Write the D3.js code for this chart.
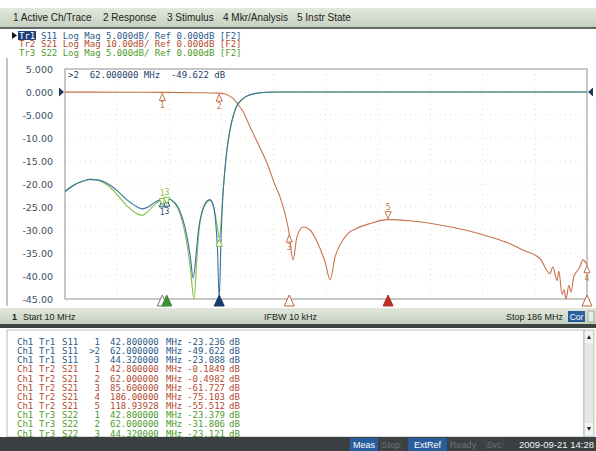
<!DOCTYPE html>
<html>
<head>
<meta charset="utf-8">
<script src="https://cdn.jsdelivr.net/npm/d3@7"></script>
<style>
  body { margin: 0; background: #fff; }
  svg { display: block; }
</style>
</head>
<body>
<svg id="vna" width="596" height="451"></svg>
<script>
// ---- data ----
const menuItems = ["1 Active Ch/Trace", "2 Response", "3 Stimulus", "4 Mkr/Analysis", "5 Instr State"]
const menuX = [13, 103, 167, 223, 297]

const traceNames = ["Tr1", "Tr2", "Tr3"]
const traceParams = ["S11 Log Mag 5.000dB/ Ref 0.000dB [F2]",
                     "S21 Log Mag 10.00dB/ Ref 0.000dB [F2]",
                     "S22 Log Mag 5.000dB/ Ref 0.000dB [F2]"]

const yTicks = [5, 0, -5, -10, -15, -20, -25, -30, -35, -40, -45]
const yTickLabels = ["5.000", "0.000", "-5.000", "-10.00", "-15.00", "-20.00",
                     "-25.00", "-30.00", "-35.00", "-40.00", "-45.00"]
const xGrid = [10, 27.6, 45.2, 62.8, 80.4, 98, 115.6, 133.2, 150.8, 168.4, 186]

// S11 (Tr1, 5 dB/div)
const freqS11 = [10, 12, 14, 16.5, 18.4, 21, 23.5, 26, 28.5, 31, 33.6, 36, 38, 40, 42.8, 44.3,
  46, 48, 49.5, 51, 52.3, 53.2, 54.1, 55, 56.2, 57.5, 58.8, 59.8, 60.7, 61.4, 62, 62.6, 63.2,
  63.9, 64.6, 65.6, 66.8, 68, 69.5, 71, 73, 75.5, 78, 82, 120, 150, 186]
const dbS11 = [-21.7, -20.7, -19.9, -19.3, -19.0, -19.1, -19.6, -20.6, -22.0, -23.5, -24.7, -25.4,
  -25.0, -24.1, -23.24, -23.09, -23.5, -24.9, -27.2, -31, -36, -40.5, -36, -30, -26, -24, -23.4,
  -24.2, -27.5, -34, -49.6, -32, -23, -17, -12.5, -8.3, -5.0, -2.9, -1.7, -1.0, -0.5, -0.2,
  -0.05, 0, 0, 0, 0]

// S22 (Tr3, 5 dB/div)
const freqS22 = [10, 12, 14, 16.5, 18.4, 21, 23.5, 26, 28.5, 31, 33.6, 36, 38, 40, 42.8, 44.3,
  46, 48, 49.5, 51, 52.3, 53.5, 54.4, 55.2, 56.3, 57.5, 58.8, 59.8, 60.7, 61.4, 62, 62.6, 63.2,
  63.9, 64.6, 65.6, 66.8, 68, 69.5, 71, 73, 75.5, 78, 82, 120, 150, 186]
const dbS22 = [-21.5, -20.6, -19.9, -19.3, -19.0, -19.2, -19.9, -21.2, -23.0, -24.8, -26.2, -26.8,
  -26.0, -24.6, -23.38, -23.12, -23.6, -25.2, -28, -32.5, -38.5, -46, -37, -30, -26, -24.2, -23.6,
  -24.4, -26.8, -29.5, -31.8, -28.5, -22.5, -17, -12.7, -8.5, -5.1, -3.0, -1.8, -1.0, -0.5, -0.2,
  -0.05, 0, 0, 0, 0]

// S21 (Tr2, 10 dB/div)
const freqS21 = [10, 30, 42.8, 55, 62, 64, 65.5, 67, 68, 70, 72.4, 75.1, 78.1, 80.8, 82.5, 85.2,
  85.6, 86.9, 88.2, 90.3, 92.6, 95.3, 97.7, 99.4, 101, 103.4, 105.5, 108.5, 112.8, 118.9, 126.3,
  136.4, 144.9, 153.3, 160, 164.4, 170.2, 173.5, 174.5, 175.9, 176.5, 177.6, 178.3, 178.9, 179.9,
  180.6, 181.6, 182.6, 183.6, 184.6, 186]
const dbS21 = [-0.05, -0.1, -0.18, -0.3, -0.5, -0.9, -1.8, -3.2, -4.8, -8.5, -15.2, -22.5, -30.9,
  -40.4, -45.6, -58.7, -61.7, -73, -63, -58.7, -60, -66, -74, -81.7, -72, -65, -61.5, -59.2, -57.2,
  -55.5, -56, -57.8, -60, -63, -66, -68.7, -72.5, -79, -76, -82, -78, -88, -86, -90, -84, -87, -80,
  -78, -76, -73, -75.1]

// marker table (as listed on screen)
const mkTrace = ["Tr1", "Tr1", "Tr1", "Tr2", "Tr2", "Tr2", "Tr2", "Tr2", "Tr3", "Tr3", "Tr3"]
const mkParam = ["S11", "S11", "S11", "S21", "S21", "S21", "S21", "S21", "S22", "S22", "S22"]
const mkNum = ["1", ">2", "3", "1", "2", "3", "4", "5", "1", "2", "3"]
const mkFreq = ["42.800000", "62.000000", "44.320000", "42.800000", "62.000000", "85.600000",
                "186.00000", "118.93928", "42.800000", "62.000000", "44.320000"]
const mkVal = ["-23.236", "-49.622", "-23.088", "-0.1849", "-0.4982", "-61.727", "-75.103",
               "-55.512", "-23.379", "-31.806", "-23.121"]

const colors = { Tr1: "#3674a2", Tr2: "#c8714c", Tr3: "#88bd45" }
const textColors = { Tr1: "#2c5a8a", Tr2: "#b24c32", Tr3: "#4f9a2a" }

const mono = "'DejaVu Sans Mono', 'Liberation Mono', monospace"

const svg = d3.select("#vna")
const plot = { left: 65, right: 587, top: 69, bottom: 299 }

const x = d3.scaleLinear().domain([10, 186]).range([plot.left, plot.right])
const y5 = d3.scaleLinear().domain([-45, 5]).range([plot.bottom, plot.top]).clamp(true)
const y10 = d3.scaleLinear().domain([-90, 10]).range([plot.bottom, plot.top]).clamp(true)

// ---- menu bar ----
const grad = svg.append("defs").append("linearGradient")
  .attr("id", "menuGrad").attr("x1", 0).attr("x2", 0).attr("y1", 0).attr("y2", 1)
grad.append("stop").attr("offset", "0%").attr("stop-color", "#e2e8dc")
grad.append("stop").attr("offset", "100%").attr("stop-color", "#c6d0c0")

svg.append("rect").attr("x", 0).attr("y", 8).attr("width", 596).attr("height", 19)
  .attr("fill", "url(#menuGrad)")
svg.append("rect").attr("x", 0).attr("y", 27).attr("width", 596).attr("height", 2)
  .attr("fill", "#5f6a66")
svg.selectAll("text.menu").data(menuItems).enter().append("text")
  .attr("class", "menu")
  .attr("x", (d, i) => menuX[i]).attr("y", 21)
  .attr("font-family", "'Liberation Sans', Arial, sans-serif").attr("font-size", 10)
  .attr("fill", "#222").text(d => d)

// ---- trace header ----
svg.append("path").attr("d", "M12,32 L17,35.5 L12,39 Z").attr("fill", "#111")
svg.append("rect").attr("x", 18).attr("y", 31).attr("width", 18).attr("height", 9)
  .attr("fill", "#1f3f7a")
traceNames.forEach((t, i) => {
  const ty = 38.5 + i * 8.5
  svg.append("text").attr("x", 19).attr("y", ty)
    .attr("font-family", mono).attr("font-size", 9)
    .attr("fill", i === 0 ? "#fff" : textColors[t]).text(t)
  svg.append("text").attr("x", 41).attr("y", ty)
    .attr("font-family", mono).attr("font-size", 9)
    .attr("fill", textColors[t]).text(traceParams[i])
})

// ---- window frame ----
svg.append("line").attr("x1", 7).attr("x2", 7).attr("y1", 58).attr("y2", 306)
  .attr("stroke", "#9aa09a").attr("stroke-width", 1.2)

// ---- grid ----
const grid = svg.append("g")
grid.selectAll("line.h").data(yTicks.slice(1, -1)).enter().append("line")
  .attr("x1", plot.left).attr("x2", plot.right)
  .attr("y1", d => y5(d)).attr("y2", d => y5(d))
  .attr("stroke", "#e3e0c4").attr("stroke-dasharray", "1,4")
grid.selectAll("line.v").data(xGrid.slice(1, -1)).enter().append("line")
  .attr("y1", plot.top).attr("y2", plot.bottom)
  .attr("x1", d => x(d)).attr("x2", d => x(d))
  .attr("stroke", "#e3e0c4").attr("stroke-dasharray", "1,4")

svg.append("rect").attr("x", plot.left).attr("y", plot.top)
  .attr("width", plot.right - plot.left).attr("height", plot.bottom - plot.top)
  .attr("fill", "none").attr("stroke", "#8d9290").attr("stroke-width", 1)

// ---- y axis labels ----
const yAxis = d3.axisLeft(y5).tickValues(yTicks)
  .tickFormat((d, i) => yTickLabels[i]).tickSize(0).tickPadding(12)
const ya = svg.append("g").attr("transform", `translate(${plot.left},0)`).call(yAxis)
ya.select(".domain").remove()
ya.selectAll("text").attr("font-family", "'DejaVu Sans', sans-serif").attr("font-size", 9.5)
  .attr("fill", "#3b4f63")

// reference position arrows
svg.append("path").attr("d", `M59,${y5(0) - 4.5} L64,${y5(0)} L59,${y5(0) + 4.5} Z`).attr("fill", "#1d3a5e")
svg.append("path").attr("d", `M593,${y5(0) - 4.5} L588,${y5(0)} L593,${y5(0) + 4.5} Z`).attr("fill", "#1d3a5e")

// ---- traces ----
svg.append("clipPath").attr("id", "plotClip").append("rect")
  .attr("x", plot.left).attr("y", plot.top - 1)
  .attr("width", plot.right - plot.left + 1).attr("height", plot.bottom - plot.top + 2)
const traces = svg.append("g").attr("clip-path", "url(#plotClip)")

function drawTrace(freqs, vals, yScale, color) {
  const line = d3.line()
    .x((d, i) => x(freqs[i]))
    .y(d => yScale(d))
    .curve(d3.curveMonotoneX)
  traces.append("path").datum(vals).attr("d", line)
    .attr("fill", "none").attr("stroke", color).attr("stroke-width", 1.1)
}
drawTrace(freqS22, dbS22, y5, colors.Tr3)
drawTrace(freqS21, dbS21, y10, colors.Tr2)
drawTrace(freqS11, dbS11, y5, colors.Tr1)

// ---- markers on traces ----
const mk = svg.append("g")
function markerBelow(f, v, yScale, color, label) {
  const px = x(+f), py = yScale(v)
  mk.append("path").attr("d", `M${px},${py + 1} L${px - 3},${py + 8} L${px + 3},${py + 8} Z`)
    .attr("fill", "#fff").attr("stroke", color).attr("stroke-width", 1)
  mk.append("text").attr("x", px).attr("y", py + 16).attr("text-anchor", "middle")
    .attr("font-family", mono).attr("font-size", 8).attr("fill", color).text(label)
}
function markerAbove(f, v, yScale, color, label) {
  const px = x(+f), py = yScale(v)
  mk.append("path").attr("d", `M${px},${py - 1} L${px - 3},${py - 8} L${px + 3},${py - 8} Z`)
    .attr("fill", "#fff").attr("stroke", color).attr("stroke-width", 1)
  mk.append("text").attr("x", px).attr("y", py - 10).attr("text-anchor", "middle")
    .attr("font-family", mono).attr("font-size", 8).attr("fill", color).text(label)
}
mkParam.forEach((p, i) => {
  const v = +mkVal[i], f = +mkFreq[i], n = mkNum[i].replace(">", "")
  if (p === "S21") {
    if (n === "5") markerAbove(f, v, y10, colors.Tr2, n)
    else markerBelow(f, v, y10, colors.Tr2, n)
  } else if (p === "S11") {
    if (v > -45) markerBelow(f, v, y5, "#1f4f7a", n)
  } else {
    if (n === "2") markerBelow(f, v, y5, colors.Tr3, "")
    else markerAbove(f, v - 1.5, y5, colors.Tr3, n)
  }
})

// stimulus markers along the bottom edge
const stimF = [42.8, 44.32, 62, 85.6, 118.93928, 186]
const stimFill = ["#fff", "#3f8f3a", "#1d3a6e", "#fff", "#b8322a", "#fff"]
const stimStroke = ["#777", "#3f8f3a", "#1d3a6e", "#c0603c", "#b8322a", "#c0603c"]
svg.selectAll("path.stim").data(stimF).enter().append("path")
  .attr("class", "stim")
  .attr("d", d => `M${x(d)},${plot.bottom - 4} L${x(d) - 5},${plot.bottom + 7} L${x(d) + 5},${plot.bottom + 7} Z`)
  .attr("fill", (d, i) => stimFill[i]).attr("stroke", (d, i) => stimStroke[i]).attr("stroke-width", 1)

// active marker readout
svg.append("text").attr("x", 68).attr("y", 78)
  .attr("font-family", mono).attr("font-size", 9).attr("fill", "#1f3f6a")
  .attr("xml:space", "preserve")
  .text(`>2  ${mkFreq[1]} MHz  ${mkVal[1]} dB`)

// ---- channel status bar ----
svg.append("rect").attr("x", 0).attr("y", 308).attr("width", 596).attr("height", 16)
  .attr("fill", "url(#menuGrad)")
svg.append("rect").attr("x", 0).attr("y", 324).attr("width", 596).attr("height", 4)
  .attr("fill", "#3d4442")
const statusFont = "'Liberation Sans', Arial, sans-serif"
svg.append("text").attr("x", 12).attr("y", 320).attr("font-family", statusFont)
  .attr("font-size", 9).attr("font-weight", "bold").attr("fill", "#222").text("1")
svg.append("text").attr("x", 23).attr("y", 320).attr("font-family", statusFont)
  .attr("font-size", 9).attr("fill", "#222").text("Start 10 MHz")
svg.append("text").attr("x", 264).attr("y", 320).attr("font-family", statusFont)
  .attr("font-size", 9).attr("fill", "#222").text("IFBW 10 kHz")
svg.append("text").attr("x", 563).attr("y", 320).attr("text-anchor", "end").attr("font-family", statusFont)
  .attr("font-size", 9).attr("fill", "#222").text("Stop 186 MHz")
svg.append("rect").attr("x", 568).attr("y", 311).attr("width", 17).attr("height", 11).attr("fill", "#2a5d9c")
svg.append("text").attr("x", 576.5).attr("y", 320).attr("text-anchor", "middle").attr("font-family", statusFont)
  .attr("font-size", 8.5).attr("fill", "#fff").text("Cor")
svg.append("rect").attr("x", 588).attr("y", 311).attr("width", 6).attr("height", 11)
  .attr("fill", "#e8ece6").attr("stroke", "#888").attr("stroke-width", 0.6)

// ---- marker table ----
svg.append("rect").attr("x", 7).attr("y", 330).attr("width", 577).attr("height", 107)
  .attr("fill", "#fff").attr("stroke", "#a8aca8").attr("stroke-width", 0.8)
svg.append("clipPath").attr("id", "tableClip").append("rect")
  .attr("x", 7).attr("y", 330).attr("width", 577).attr("height", 107)
const table = svg.append("g").attr("clip-path", "url(#tableClip)")
  .attr("font-family", mono).attr("font-size", 9)
const rows = table.selectAll("g.row").data(mkNum).enter().append("g")
  .attr("class", "row")
  .attr("transform", (d, i) => `translate(0,${345 + i * 9.15})`)
  .attr("fill", (d, i) => textColors[mkTrace[i]])
rows.append("text").attr("x", 17).text("Ch1")
rows.append("text").attr("x", 39).text((d, i) => mkTrace[i])
rows.append("text").attr("x", 62).text((d, i) => mkParam[i])
rows.append("text").attr("x", 100).attr("text-anchor", "end").text(d => d)
rows.append("text").attr("x", 110).text((d, i) => mkFreq[i])
rows.append("text").attr("x", 166).text("MHz")
rows.append("text").attr("x", 225).attr("text-anchor", "end").text((d, i) => mkVal[i])
rows.append("text").attr("x", 229).text("dB")

// scrollbar
svg.append("rect").attr("x", 584).attr("y", 330).attr("width", 10).attr("height", 107)
  .attr("fill", "#e4e8e2").attr("stroke", "#a0a4a0").attr("stroke-width", 0.6)
svg.append("rect").attr("x", 585).attr("y", 331).attr("width", 8).attr("height", 12).attr("fill", "#f2f4f0")
svg.append("rect").attr("x", 585).attr("y", 423).attr("width", 8).attr("height", 12).attr("fill", "#f2f4f0")
svg.append("path").attr("d", "M587,339 L589,335 L591,339 Z").attr("fill", "#222")
svg.append("path").attr("d", "M587,427 L589,431 L591,427 Z").attr("fill", "#222")

// ---- instrument status bar ----
svg.append("rect").attr("x", 0).attr("y", 437).attr("width", 596).attr("height", 14).attr("fill", "#3a3f42")
const sb = [
  { t: "Meas", x: 350, w: 28, box: true },
  { t: "Stop", x: 381, w: 20, box: false },
  { t: "ExtRef", x: 408, w: 39, box: true },
  { t: "Ready", x: 450, w: 26, box: false },
  { t: "Svc", x: 485, w: 18, box: false }
]
sb.forEach(s => {
  if (s.box) svg.append("rect").attr("x", s.x).attr("y", 438).attr("width", s.w).attr("height", 13).attr("fill", "#2a5d9c")
  else svg.append("rect").attr("x", s.x).attr("y", 438).attr("width", s.w).attr("height", 13)
    .attr("fill", "none").attr("stroke", "#4e5558").attr("stroke-width", 0.6)
  svg.append("text").attr("x", s.x + s.w / 2).attr("y", 448).attr("text-anchor", "middle")
    .attr("font-family", statusFont).attr("font-size", 9)
    .attr("fill", s.box ? "#fff" : "#6c7376").text(s.t)
})
svg.append("text").attr("x", 594).attr("y", 448).attr("text-anchor", "end")
  .attr("font-family", statusFont).attr("font-size", 9.5).attr("fill", "#f2f2f2")
  .text("2009-09-21 14:28")
</script>
</body>
</html>
